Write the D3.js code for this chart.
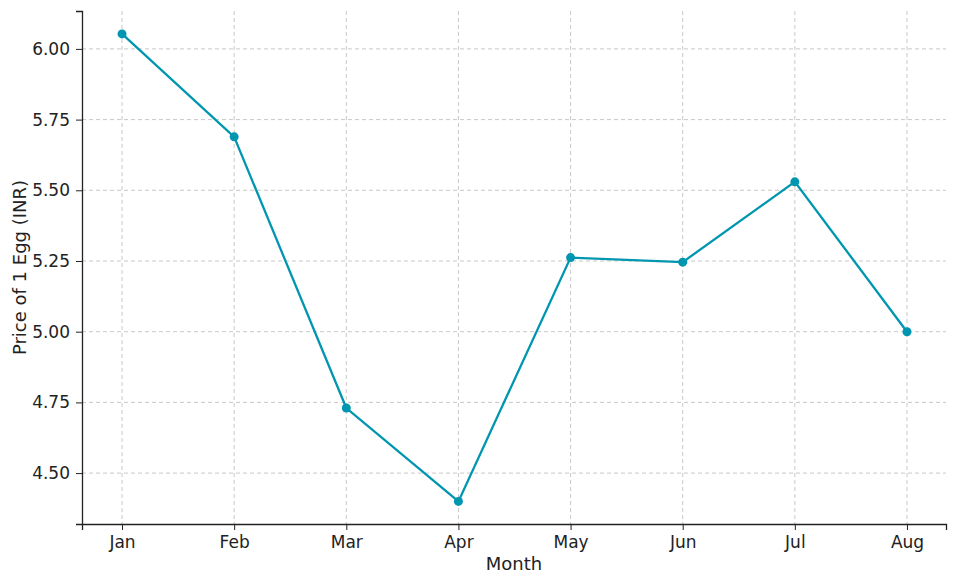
<!DOCTYPE html>
<html>
<head>
<meta charset="utf-8">
<script src="https://cdn.jsdelivr.net/npm/d3@7"></script>
<style>
  body { margin: 0; background: #fff; }
  text { font-family: "DejaVu Sans", sans-serif; fill: #222; }
</style>
</head>
<body>
<script>
var months = ["Jan", "Feb", "Mar", "Apr", "May", "Jun", "Jul", "Aug"];
var prices = [6.053, 5.689, 4.73, 4.40, 5.262, 5.246, 5.53, 5.00];
var yTicks = [4.50, 4.75, 5.00, 5.25, 5.50, 5.75, 6.00];

var width = 957, height = 584;
var padL = 82, padR = 946, padT = 11, padB = 524;
var lineColor = "#0096b0";

var svg = d3.select("body").append("svg")
            .attr("width", width)
            .attr("height", height);

var x = d3.scaleLinear().domain([-0.357, 7.348]).range([padL, padR]);
var y = d3.scaleLinear().domain([4.32, 6.134]).range([padB, padT]);

// grid
svg.append("g").selectAll("line")
   .data(months)
   .enter().append("line")
   .attr("x1", function(d, i) { return x(i); })
   .attr("x2", function(d, i) { return x(i); })
   .attr("y1", padT).attr("y2", padB)
   .attr("stroke", "#c8c8c8").attr("stroke-dasharray", "4,3");

svg.append("g").selectAll("line")
   .data(yTicks)
   .enter().append("line")
   .attr("x1", padL).attr("x2", padR)
   .attr("y1", function(d) { return y(d); })
   .attr("y2", function(d) { return y(d); })
   .attr("stroke", "#c8c8c8").attr("stroke-dasharray", "4,3");

// axes (only left and bottom spines)
var xAxis = d3.axisBottom(x)
              .tickValues(d3.range(months.length))
              .tickFormat(function(i) { return months[i]; })
              .tickSizeOuter(0).tickSize(6).tickPadding(6);
var yAxis = d3.axisLeft(y)
              .tickValues(yTicks)
              .tickFormat(d3.format(".2f"))
              .tickSizeOuter(0).tickSize(6).tickPadding(6);

var gx = svg.append("g").attr("transform", "translate(0," + padB + ")").call(xAxis);
var gy = svg.append("g").attr("transform", "translate(" + padL + ",0)").call(yAxis);
[gx, gy].forEach(function(g) {
  g.selectAll("text").attr("font-size", "17px").attr("fill", "#222")
   .attr("font-family", "DejaVu Sans, sans-serif");
  g.selectAll("line, path").attr("stroke", "#222");
  g.select(".domain").attr("stroke-width", 1.3);
});

// line
var line = d3.line()
             .x(function(d, i) { return x(i); })
             .y(function(d) { return y(d); });

svg.append("path")
   .datum(prices)
   .attr("d", line)
   .attr("fill", "none")
   .attr("stroke", lineColor)
   .attr("stroke-width", 2.3);

svg.append("g").selectAll("circle")
   .data(prices)
   .enter().append("circle")
   .attr("cx", function(d, i) { return x(i); })
   .attr("cy", function(d) { return y(d); })
   .attr("r", 4.5)
   .attr("fill", lineColor);

// labels
svg.append("text")
   .attr("x", (padL + padR) / 2).attr("y", 570)
   .attr("text-anchor", "middle").attr("font-size", "18px")
   .text("Month");

svg.append("text")
   .attr("transform", "translate(26," + ((padT + padB) / 2) + ") rotate(-90)")
   .attr("text-anchor", "middle").attr("font-size", "18px")
   .text("Price of 1 Egg (INR)");
</script>
</body>
</html>
